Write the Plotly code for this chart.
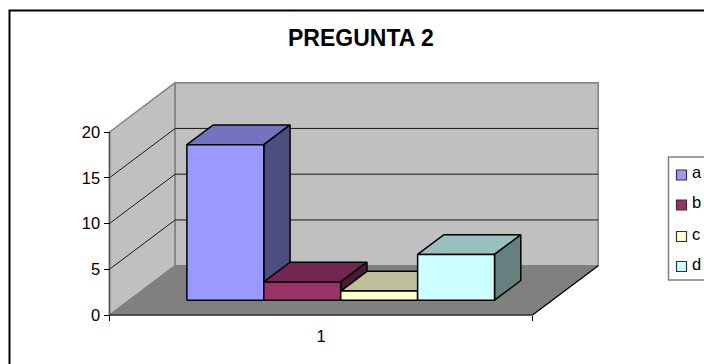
import plotly.graph_objects as go

# Chart data
categories = ["1"]
series_names = ["a", "b", "c", "d"]
series_values = [17, 2, 1, 5]
y_ticks = [0, 5, 10, 15, 20]

front_colors = ["#9999FF", "#993366", "#FFFFCC", "#CCFFFF"]
top_colors = ["#7373BF", "#732650", "#BFBF99", "#99BFBF"]
side_colors = ["#4D4D80", "#4D1A33", "#808066", "#668080"]

W, H = 704, 364
FONT = "Liberation Sans, Arial, sans-serif"

# Pixel placement of the plot box: origin, category width, pixels per value unit
X0_PX, Y0_PX = 109.5, 315.0
CAT_PX, UNIT_PX = 423.0, 9.15
# Oblique depth vector expressed in axis units
DX = 65.7 / CAT_PX
DY = 49.3 / UNIT_PX
GAP = 1.5            # gap between category edge groups, in bar widths
DEPTH = (0.3, 0.7)   # bars occupy this slice of the floor depth
BAR_W = 1 / (len(series_values) + GAP)


def proj(x, v, d):
    """Oblique projection of (category position, value, depth) onto the axes."""
    return x + d * DX, v + d * DY


def poly(points, fill, line_color, line_width, name):
    xs, ys = zip(*[proj(*p) for p in points])
    return go.Scatter(
        x=list(xs) + [xs[0]], y=list(ys) + [ys[0]], mode="lines", fill="toself",
        fillcolor=fill, line=dict(color=line_color, width=line_width),
        hoverinfo="skip", showlegend=False, name=name,
    )


def segments(pairs, color, width, name):
    xs, ys = [], []
    for a, b in pairs:
        ax, ay = proj(*a)
        bx, by = proj(*b)
        xs += [ax, bx, None]
        ys += [ay, by, None]
    return go.Scatter(x=xs, y=ys, mode="lines", line=dict(color=color, width=width),
                      hoverinfo="skip", showlegend=False, name=name)


fig = go.Figure()
top = y_ticks[-1]

# Walls and floor
fig.add_trace(poly([(0, 0, 0), (0, top, 0), (0, top, 1), (0, 0, 1)], "#C0C0C0", "#808080", 1.5, "side wall"))
fig.add_trace(poly([(0, 0, 1), (0, top, 1), (1, top, 1), (1, 0, 1)], "#C0C0C0", "#808080", 1.5, "back wall"))
fig.add_trace(poly([(0, 0, 0), (0, 0, 1), (1, 0, 1), (1, 0, 0)], "#808080", "#808080", 1, "floor"))

# Gridlines running along the side wall and back wall
grid = []
for t in y_ticks[1:-1]:
    grid += [((0, t, 0), (0, t, 1)), ((0, t, 1), (1, t, 1))]
fig.add_trace(segments(grid, "#1A1A1A", 1, "grid"))

# Front axis edges
fig.add_trace(segments([((0, 0, 0), (1, 0, 0)), ((1, 0, 0), (1, 0, 1))], "#000000", 1.2, "base"))
fig.add_trace(segments([((0, 0, 0), (0, top, 0))], "#555555", 1.5, "value axis"))

# Bars, painted left to right so each one overlaps its neighbour's side face
for i, (value, name) in enumerate(zip(series_values, series_names)):
    x1 = (GAP / 2 + i) * BAR_W
    x2 = x1 + BAR_W
    d1, d2 = DEPTH
    fig.add_trace(poly([(x1, value, d1), (x2, value, d1), (x2, value, d2), (x1, value, d2)],
                       top_colors[i], "#000000", 1.5, name))
    fig.add_trace(poly([(x2, 0, d1), (x2, value, d1), (x2, value, d2), (x2, 0, d2)],
                       side_colors[i], "#000000", 1.5, name))
    fig.add_trace(poly([(x1, 0, d1), (x2, 0, d1), (x2, value, d1), (x1, value, d1)],
                       front_colors[i], "#000000", 1.5, name))

# Outer frame (its right and bottom sides fall past the page) and legend box
shapes = [
    dict(type="rect", xref="paper", yref="paper", x0=9.5 / W, x1=713 / W,
         y0=1 - 380 / H, y1=1 - 10.5 / H, line=dict(color="#000000", width=2), layer="below"),
    dict(type="rect", xref="paper", yref="paper", x0=668.5 / W, x1=720 / W,
         y0=1 - 280 / H, y1=1 - 157 / H, line=dict(color="#808080", width=1.5)),
]
annotations = [
    dict(text="<b>PREGUNTA 2</b>", xref="paper", yref="paper", x=361 / W, y=1 - 38 / H,
         xanchor="center", yanchor="middle", showarrow=False,
         font=dict(family=FONT, size=23, color="#000000")),
]
legend_y = [175, 205, 236.5, 266.5]
for name, color, ly in zip(series_names, front_colors, legend_y):
    shapes.append(dict(type="rect", xref="paper", yref="paper", x0=676.5 / W, x1=686.5 / W,
                       y0=1 - (ly + 5) / H, y1=1 - (ly - 5) / H,
                       fillcolor=color, line=dict(color="#333333", width=1.2)))
    annotations.append(dict(text=name, xref="paper", yref="paper", x=690 / W, y=1 - (ly - 3) / H,
                            xanchor="left", yanchor="middle", showarrow=False,
                            font=dict(family=FONT, size=16.5, color="#000000")))

fig.update_layout(
    width=W, height=H, margin=dict(l=0, r=0, t=0, b=0),
    paper_bgcolor="#FFFFFF", plot_bgcolor="rgba(0,0,0,0)",
    showlegend=False, shapes=shapes, annotations=annotations,
    xaxis=dict(
        range=[-X0_PX / CAT_PX, (W - X0_PX) / CAT_PX], domain=[0, 1],
        anchor="free", position=(H - Y0_PX) / H,
        tickmode="array", tickvals=[0.5], ticktext=categories, ticks="outside", ticklen=0,
        ticklabelstandoff=6,
        minor=dict(tickmode="array", tickvals=[0, 1], ticks="outside", ticklen=5, tickcolor="#000000"),
        showgrid=False, zeroline=False, showline=False,
        tickfont=dict(family=FONT, size=16.5, color="#000000"),
    ),
    yaxis=dict(
        range=[-(H - Y0_PX) / UNIT_PX, Y0_PX / UNIT_PX], domain=[0, 1],
        anchor="free", position=X0_PX / W,
        tickmode="array", tickvals=y_ticks, ticks="outside", ticklen=6, tickcolor="#000000",
        showgrid=False, zeroline=False, showline=False,
        tickfont=dict(family=FONT, size=16.5, color="#000000"),
    ),
)

fig.write_html("out.html")
